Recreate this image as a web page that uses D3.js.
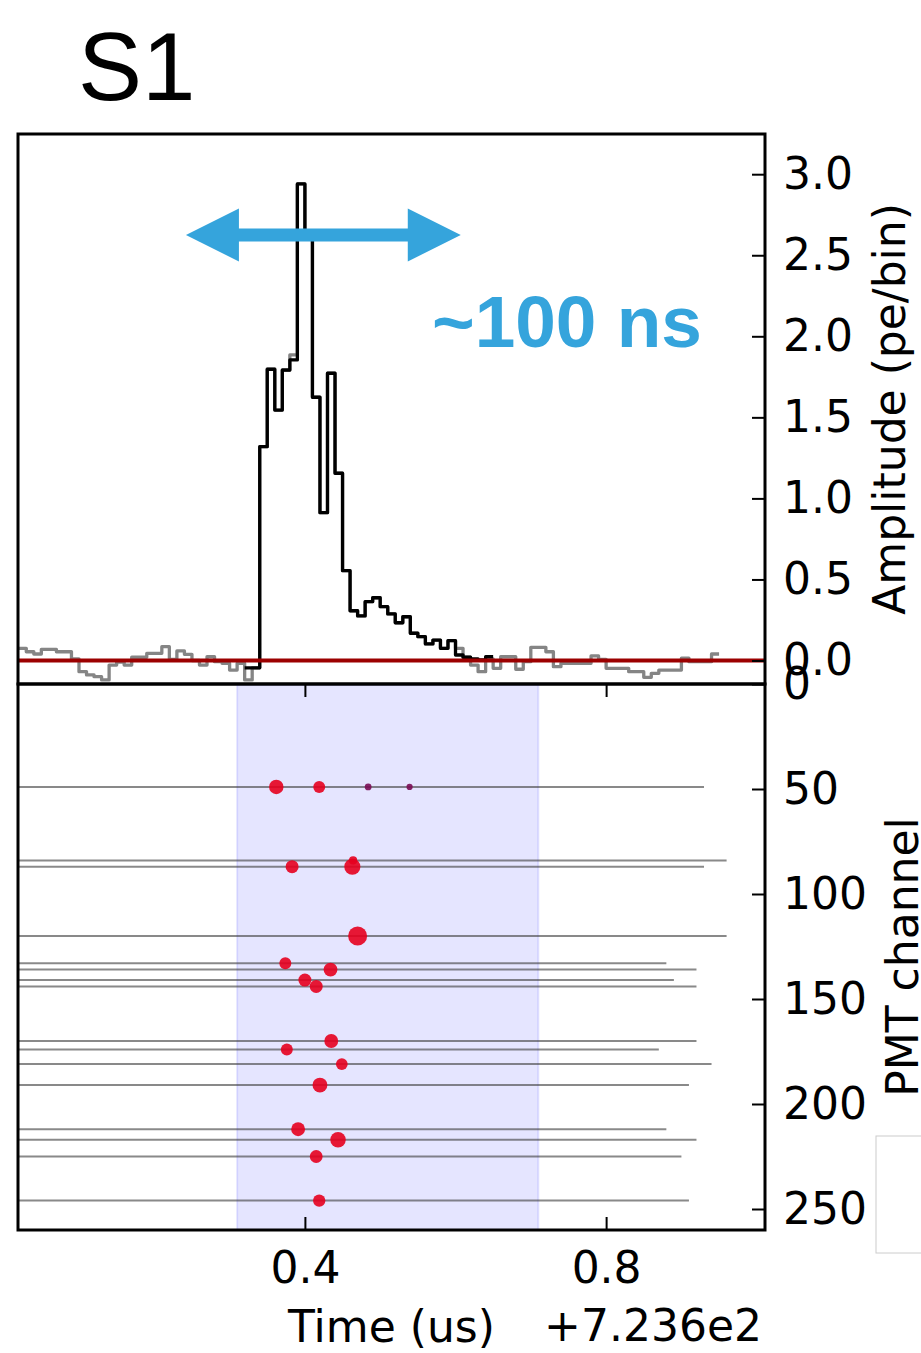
<!DOCTYPE html>
<html>
<head>
<meta charset="utf-8">
<script src="https://cdn.jsdelivr.net/npm/d3@7"></script>
<style>
  body { margin: 0; background: #fff; }
  svg { display: block; font-family: "DejaVu Sans", sans-serif; }
</style>
</head>
<body>
<svg id="fig" width="921" height="1353"></svg>
<script>
// ---- data -------------------------------------------------------------
// Summed waveform, 10 ns bins; times in us after the +723.6 us offset.
const binWidth = 0.01;
const rawStart = 0.01;   // first bin of the full (gray) waveform
const rawAmp = [
  0.075, 0.075, 0.054, 0.040, 0.069, 0.069, 0.054, 0.054, 0.010, -0.069,
  -0.089, -0.100, -0.120, -0.028, -0.010, -0.028, 0.020, 0.020, 0.044, 0.044,
  0.085, 0.007, 0.059, 0.038, 0.000, -0.028, 0.023, -0.007, -0.017, -0.059,
  -0.017, -0.120, -0.045, 1.319, 1.800, 1.545, 1.790, 1.885, 2.940, 2.640,
  1.624, 0.912, 1.772, 1.155, 0.554, 0.307, 0.275, 0.363, 0.387, 0.332,
  0.287, 0.233, 0.270, 0.168, 0.147, 0.102, 0.126, 0.075, 0.122, 0.075,
  0.020, -0.028, -0.069, 0.010, -0.048, 0.023, 0.023, -0.054, -0.007, 0.081,
  0.081, 0.054, -0.038, -0.017, -0.017, -0.017, -0.017, 0.028, 0.007, -0.048,
  -0.048, -0.048, -0.069, -0.069, -0.104, -0.079, -0.059, -0.059, -0.059, 0.014,
  -0.007, -0.007, -0.007, 0.040
];
const peakStart = 0.32;  // first bin of the S1 peak (black)
const peakAmp = [
  -0.045, -0.045, 1.319, 1.796, 1.545, 1.792, 1.854, 2.940, 2.640, 1.624,
  0.912, 1.772, 1.155, 0.554, 0.307, 0.275, 0.363, 0.387, 0.332, 0.287,
  0.233, 0.270, 0.168, 0.147, 0.102, 0.126, 0.075, 0.122, 0.034, 0.020,
  0.010, 0.003, 0.023
];

// PMT channels that saw the pulse, and where each channel's record ends
const channels  = [49, 84, 87, 120, 133, 136, 141, 144, 170, 174, 181, 191, 212, 217, 225, 246];
const recordEnd = [0.93, 0.96, 0.93, 0.96, 0.88, 0.92, 0.89, 0.92, 0.92, 0.87, 0.94, 0.91, 0.88, 0.92, 0.90, 0.91];

// Individual photon hits: channel, time (us), area (pe)
const hitChannel = [49, 49, 49, 49, 84, 87, 87, 120, 133, 136, 141, 144, 170, 174, 181, 191, 212, 217, 225, 246];
const hitTime    = [0.362, 0.419, 0.484, 0.539, 0.464, 0.383, 0.463, 0.470, 0.374, 0.434, 0.400, 0.415, 0.435, 0.376, 0.449, 0.420, 0.391, 0.444, 0.415, 0.419];
const hitArea    = [1.36, 0.93, 0.30, 0.25, 0.44, 1.10, 1.69, 2.35, 0.93, 1.25, 1.10, 1.10, 1.25, 0.93, 0.90, 1.44, 1.25, 1.56, 1.07, 1.00];

// Peak window and annotation
const peakWindow = [0.31, 0.71];
const widthArrow = [0.242, 0.607];
const widthArrowAmp = 2.625;
const widthLabel = "~100 ns";
const widthLabelPos = [0.5688, 1.934];

// Axes
const timeDomain = [0.019, 1.011];
const ampDomain = [-0.145, 3.248];
const channelDomain = [0, 260];
const timeTicks = [0.4, 0.8];
const ampTicks = [0, 0.5, 1.0, 1.5, 2.0, 2.5, 3.0];
const channelTicks = [0, 50, 100, 150, 200, 250];
const timeOffsetLabel = "+7.236e2";

// ---- layout -----------------------------------------------------------
const L = 18, R = 765, T = 134, M = 684, B = 1230;
const svg = d3.select("#fig");
svg.append("rect").attr("width", 921).attr("height", 1353).attr("fill", "#fff");

const x = d3.scaleLinear().domain(timeDomain).range([L, R]);
const yAmp = d3.scaleLinear().domain(ampDomain).range([M, T]);
const yCh = d3.scaleLinear().domain(channelDomain).range([M, B]);
const rHit = d3.scaleSqrt().domain([0, 1]).range([0, 6.2]);
const hitColor = d3.scaleThreshold().domain([0.35]).range(["#7a0c55", "#e6001f"]);

const defs = svg.append("defs");
defs.append("clipPath").attr("id", "clipTop")
  .append("rect").attr("x", L).attr("y", T).attr("width", R - L).attr("height", M - T);
defs.append("clipPath").attr("id", "clipBot")
  .append("rect").attr("x", L).attr("y", M).attr("width", R - L).attr("height", B - M);

// turn per-bin amplitudes into step points (bin start + final edge)
function steps(start, amps) {
  const pts = amps.map((v, i) => ({ t: start + i * binWidth, v }));
  pts.push({ t: start + amps.length * binWidth, v: amps[amps.length - 1] });
  return pts;
}
const stepLine = d3.line().curve(d3.curveStepAfter).x(d => x(d.t)).y(d => yAmp(d.v));

// ---- top panel: summed waveform -------------------------------------
const gWave = svg.append("g").attr("clip-path", "url(#clipTop)");
gWave.append("path").datum(steps(rawStart, rawAmp))
  .attr("d", stepLine).attr("fill", "none")
  .attr("stroke", "#858585").attr("stroke-width", 3.3).attr("stroke-linejoin", "round");
gWave.append("path").datum(steps(peakStart, peakAmp))
  .attr("d", stepLine).attr("fill", "none")
  .attr("stroke", "#000").attr("stroke-width", 3.3).attr("stroke-linejoin", "round");
gWave.append("line")
  .attr("x1", L).attr("x2", R).attr("y1", yAmp(0)).attr("y2", yAmp(0))
  .attr("stroke", "#9c0000").attr("stroke-width", 4);

// double-headed width arrow
{
  const x1 = x(widthArrow[0]), x2 = x(widthArrow[1]), yc = yAmp(widthArrowAmp);
  const hl = 53, hh = 26.5, sh = 6.5;
  const pts = [
    [x1, yc], [x1 + hl, yc - hh], [x1 + hl, yc - sh], [x2 - hl, yc - sh], [x2 - hl, yc - hh],
    [x2, yc], [x2 - hl, yc + hh], [x2 - hl, yc + sh], [x1 + hl, yc + sh], [x1 + hl, yc + hh]
  ];
  svg.append("path").attr("d", "M" + pts.map(p => p.join(",")).join("L") + "Z")
    .attr("fill", "#35a4dc");
}
svg.append("text")
  .attr("x", x(widthLabelPos[0])).attr("y", yAmp(widthLabelPos[1]))
  .attr("font-family", "'Liberation Sans', Arial, sans-serif")
  .attr("font-weight", "bold").attr("font-size", 73)
  .attr("fill", "#35a4dc").text(widthLabel);

svg.append("rect").attr("x", L).attr("y", T).attr("width", R - L).attr("height", M - T)
  .attr("fill", "none").attr("stroke", "#000").attr("stroke-width", 3);

const ampAxis = d3.axisRight(yAmp).tickValues(ampTicks).tickFormat(d3.format(".1f"))
  .tickSize(-13).tickPadding(18);
const gAmp = svg.append("g").attr("transform", `translate(${R},0)`).call(ampAxis);

// ---- bottom panel: hits per PMT channel -----------------------------
const gHits = svg.append("g").attr("clip-path", "url(#clipBot)");
gHits.append("rect")
  .attr("x", x(peakWindow[0])).attr("width", x(peakWindow[1]) - x(peakWindow[0]))
  .attr("y", M).attr("height", B - M)
  .attr("fill", "#0000ff").attr("fill-opacity", 0.1)
  .attr("stroke", "#0000ff").attr("stroke-opacity", 0.1).attr("stroke-width", 2);

gHits.selectAll("line.rec").data(channels).join("line").attr("class", "rec")
  .attr("x1", x(timeDomain[0]) - 5).attr("x2", (d, i) => x(recordEnd[i]))
  .attr("y1", d => yCh(d)).attr("y2", d => yCh(d))
  .attr("stroke", "#3a3a3a").attr("stroke-opacity", 0.6).attr("stroke-width", 2);

gHits.selectAll("circle.hit").data(d3.range(hitChannel.length)).join("circle").attr("class", "hit")
  .attr("cx", i => x(hitTime[i])).attr("cy", i => yCh(hitChannel[i]))
  .attr("r", i => rHit(hitArea[i]))
  .attr("fill", i => hitColor(hitArea[i])).attr("fill-opacity", 0.9);

svg.append("rect").attr("x", L).attr("y", M).attr("width", R - L).attr("height", B - M)
  .attr("fill", "none").attr("stroke", "#000").attr("stroke-width", 3);

const chAxis = d3.axisRight(yCh).tickValues(channelTicks).tickFormat(d3.format("d"))
  .tickSize(-13).tickPadding(18);
const gCh = svg.append("g").attr("transform", `translate(${R},0)`).call(chAxis);

const tAxis = d3.axisBottom(x).tickValues(timeTicks).tickFormat(d3.format(".1f"))
  .tickSize(-13).tickPadding(22);
const gT = svg.append("g").attr("transform", `translate(0,${B})`).call(tAxis);
const tAxisTop = d3.axisTop(x).tickValues(timeTicks).tickFormat("").tickSize(-13);
const gTt = svg.append("g").attr("transform", `translate(0,${M})`).call(tAxisTop);

[gAmp, gCh, gT, gTt].forEach(g => {
  g.select(".domain").remove();
  g.selectAll(".tick line").attr("stroke", "#000").attr("stroke-width", 2);
  g.selectAll(".tick text").attr("font-family", "'DejaVu Sans', sans-serif")
    .attr("font-size", 44).attr("fill", "#000");
});

// ---- labels ----------------------------------------------------------
svg.append("text").attr("transform", `translate(905,${(T + M) / 2}) rotate(-90)`)
  .attr("text-anchor", "middle").attr("font-size", 44).text("Amplitude (pe/bin)");
svg.append("text").attr("transform", `translate(918,${(M + B) / 2}) rotate(-90)`)
  .attr("text-anchor", "middle").attr("font-size", 44).text("PMT channel");
svg.append("text").attr("x", (L + R) / 2).attr("y", 1342)
  .attr("text-anchor", "middle").attr("font-size", 44).text("Time (us)");
svg.append("text").attr("x", 762).attr("y", 1341)
  .attr("text-anchor", "end").attr("font-size", 44).text(timeOffsetLabel);

svg.append("text").attr("x", 78).attr("y", 100)
  .attr("font-family", "'Liberation Sans', Arial, sans-serif")
  .attr("font-size", 96).attr("fill", "#000").text("S1");

// empty legend frame at the lower right
svg.append("rect").attr("x", 876).attr("y", 1136).attr("width", 80).attr("height", 117)
  .attr("fill", "#fff").attr("stroke", "#cccccc").attr("stroke-width", 1);
</script>
</body>
</html>
